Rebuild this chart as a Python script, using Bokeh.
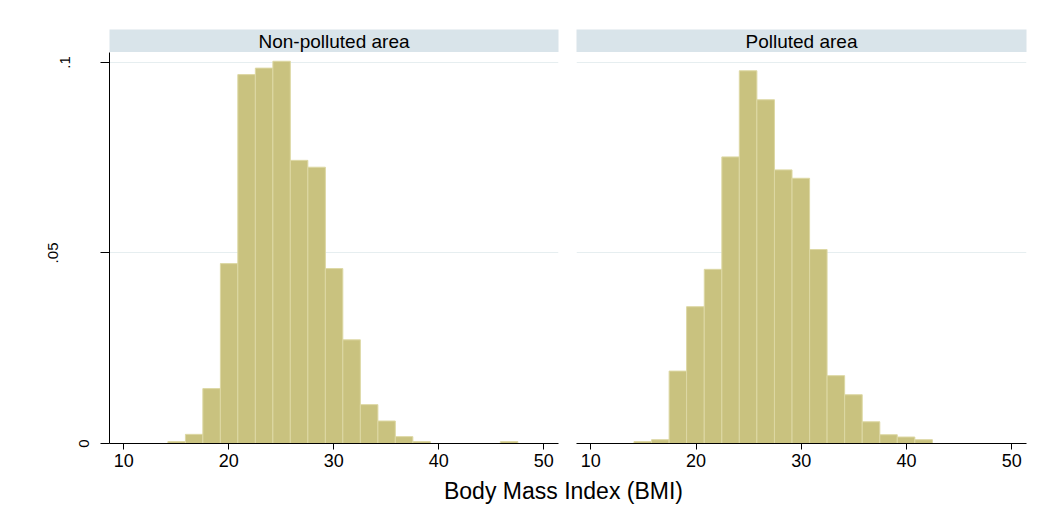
import math
from bokeh.plotting import figure
from bokeh.layouts import column, row
from bokeh.models import FixedTicker, Grid, Label, Range1d
from bokeh.core.properties import value
from bokeh.embed import file_html
from bokeh.resources import INLINE

# ---------------- data ----------------
panel_titles = ["Non-polluted area", "Polluted area"]

nonpolluted_edges = [14.2, 15.87, 17.53, 19.2, 20.86, 22.53, 24.2, 25.86, 27.53, 29.2,
                     30.86, 32.53, 34.2, 35.86, 37.53, 39.2, 40.86, 42.53, 44.2, 45.86, 47.53]
nonpolluted_density = [0.0005, 0.0024, 0.0144, 0.0472, 0.0968, 0.0985, 0.1003, 0.0743, 0.0725, 0.0459,
                       0.0272, 0.0102, 0.0059, 0.0018, 0.0005, 0.0, 0.0, 0.0, 0.0, 0.0005]

polluted_edges = [14.1, 15.77, 17.44, 19.1, 20.78, 22.45, 24.11, 25.78, 27.45, 29.12,
                  30.79, 32.45, 34.12, 35.79, 37.46, 39.12, 40.79, 42.46]
polluted_density = [0.0005, 0.0010, 0.0190, 0.0359, 0.0457, 0.0752, 0.0978, 0.0902, 0.0718, 0.0696,
                    0.0509, 0.0178, 0.0128, 0.0057, 0.0023, 0.0017, 0.0010]

x_ticks = [10, 20, 30, 40, 50]
y_ticks = [0, 0.05, 0.1]
y_tick_labels = ["0", ".05", ".1"]
x_title = "Body Mass Index (BMI)"

# ---------------- styles / layout ----------------
FONT = "Liberation Sans"
BAR_FILL = "#C9C27F"
BAR_LINE = "#DDD8A4"
STRIP = "#D9E4EA"
GRID = "#E6EEF0"

X_RANGE = (8.64, 51.4)
Y_RANGE = (0.0, 0.1026)

PAGE_W, PAGE_H = 1050, 508
YLAB_W = 97                      # column that holds the rotated y tick labels
LEFT_W, RIGHT_W = 567, 483       # page widths of the two panel columns (left one includes YLAB_W)
STRIP_H, PANEL_H, TITLE_H = 52, 421, 35
FRAME_TOP, FRAME_H, BOTTOM_B = 52, 391, 30
FRAME_LEFT = 109
Y_LABEL_X = [83, 52, 64]         # horizontal centre (px) of each rotated y label, as in the reference


def make_strip(text, width, bl, br):
    s = figure(width=width, height=STRIP_H, x_range=Range1d(0, 1), y_range=Range1d(0, 1),
               output_backend="svg", toolbar_location=None,
               x_axis_location=None, y_axis_location=None,
               min_border_left=bl, min_border_right=br, min_border_top=29, min_border_bottom=0)
    s.background_fill_color = STRIP
    s.border_fill_color = "white"
    s.outline_line_color = None
    s.grid.visible = False
    s.add_layout(Label(x=0.5, y=0.5, text=text, text_align="center", text_baseline="middle",
                       text_font=FONT, text_font_size="19px", text_color="black"))
    return s


def make_panel(edges, dens, width, bl, br, show_y):
    p = figure(width=width, height=PANEL_H, x_range=Range1d(*X_RANGE), y_range=Range1d(*Y_RANGE),
               output_backend="svg", toolbar_location=None,
               y_axis_location="left" if show_y else None,
               min_border_left=bl, min_border_right=br, min_border_top=0, min_border_bottom=BOTTOM_B)
    p.outline_line_color = None
    p.background_fill_color = "white"
    p.border_fill_color = "white"
    for g in p.grid:
        g.visible = False
    p.add_layout(Grid(dimension=1, ticker=FixedTicker(ticks=y_ticks),
                      grid_line_color=GRID, grid_line_width=1))

    p.quad(left=edges[:-1], right=edges[1:], bottom=0, top=dens,
           fill_color=BAR_FILL, line_color=BAR_LINE, line_width=1)

    xa = p.xaxis[0]
    xa.ticker = FixedTicker(ticks=x_ticks)
    xa.minor_tick_line_color = None
    xa.major_tick_in = 0
    xa.major_tick_out = 6
    xa.major_label_standoff = 4
    xa.axis_line_color = "black"
    xa.major_tick_line_color = "black"
    xa.major_label_text_font = FONT
    xa.major_label_text_font_size = "18px"
    xa.major_label_text_color = "black"

    if show_y:
        ya = p.yaxis[0]
        ya.ticker = FixedTicker(ticks=y_ticks)
        ya.major_label_overrides = {v: "" for v in y_ticks}
        ya.major_label_standoff = 0
        ya.minor_tick_line_color = None
        ya.major_tick_in = 0
        ya.major_tick_out = 9
        ya.axis_line_color = "black"
        ya.major_tick_line_color = "black"
    return p


# y tick labels: rotated texts in a full-height column, on the same vertical scale as the panels
ypx = (Y_RANGE[1] - Y_RANGE[0]) / FRAME_H
y_lo = Y_RANGE[0] - (PAGE_H - (FRAME_TOP + FRAME_H)) * ypx
y_hi = Y_RANGE[1] + FRAME_TOP * ypx
ylab = figure(width=YLAB_W, height=PAGE_H, x_range=Range1d(0, YLAB_W), y_range=Range1d(y_lo, y_hi),
              output_backend="svg", toolbar_location=None,
              x_axis_location=None, y_axis_location=None,
              min_border_left=0, min_border_right=0, min_border_top=0, min_border_bottom=0)
ylab.outline_line_color = None
ylab.grid.visible = False
ylab.text(x=Y_LABEL_X, y=y_ticks, text=y_tick_labels, angle=math.pi / 2,
          text_align="center", text_baseline="middle", text_font=value(FONT),
          text_font_size=value("15px"), text_color="black")

inner_left = LEFT_W - YLAB_W
s1 = make_strip(panel_titles[0], inner_left, FRAME_LEFT - YLAB_W, 9)
s2 = make_strip(panel_titles[1], RIGHT_W, 9, 24)
p1 = make_panel(nonpolluted_edges, nonpolluted_density, inner_left, FRAME_LEFT - YLAB_W, 9, True)
p2 = make_panel(polluted_edges, polluted_density, RIGHT_W, 9, 24, False)

inner_w = inner_left + RIGHT_W
t = figure(width=inner_w, height=TITLE_H, x_range=Range1d(0, inner_w), y_range=Range1d(0, TITLE_H),
           output_backend="svg", toolbar_location=None,
           x_axis_location=None, y_axis_location=None,
           min_border_left=0, min_border_right=0, min_border_top=0, min_border_bottom=0)
t.outline_line_color = None
t.grid.visible = False
t.add_layout(Label(x=563 - YLAB_W, y=18, text=x_title, text_align="center", text_baseline="middle",
                   text_font=FONT, text_font_size="23px", text_color="black"))

layout = row(ylab, column(row(s1, s2), row(p1, p2), t))

with open("out.html", "w") as f:
    f.write(file_html(layout, INLINE))
